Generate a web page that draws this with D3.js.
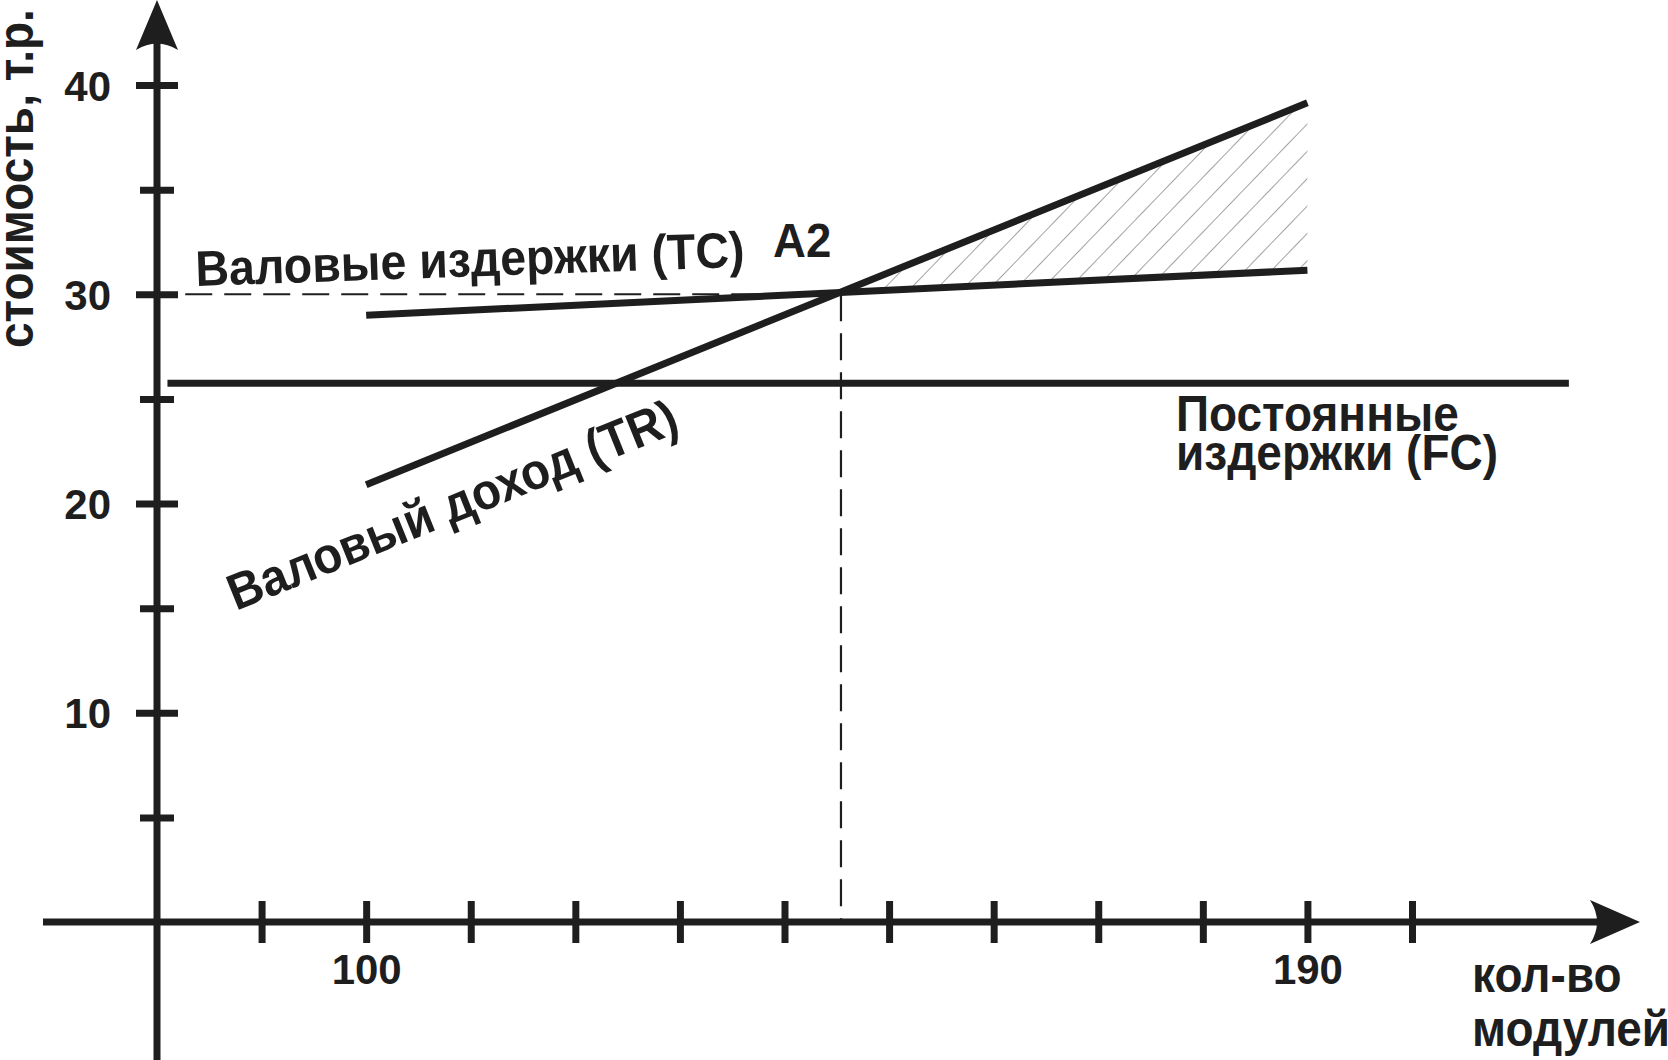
<!DOCTYPE html>
<html><head><meta charset="utf-8">
<script src="https://cdn.jsdelivr.net/npm/d3@7"></script>
<style>
html,body{margin:0;padding:0;background:#fff;overflow:hidden}
text{font-family:"Liberation Sans",Arial,sans-serif;font-weight:bold;fill:#1e1e1e}
</style>
</head><body>
<svg id="c" width="1668" height="1060"></svg>
<script>
// ---- data ----
const xDomain = [80, 200];
const yDomain = [0, 40];
const xTicks = [90, 100, 110, 120, 130, 140, 150, 160, 170, 180, 190, 200];
const xTickLabels = [100, 190];
const yMajorTicks = [10, 20, 30, 40];
const yMinorTicks = [5, 15, 25, 35];
const tcX = [100, 190], tcY = [29.0, 31.15];   // Валовые издержки (TC)
const trX = [100, 190], trY = [20.9, 39.15];   // Валовый доход (TR)
const fcX = [81, 215],  fcY = [25.75, 25.75];  // Постоянные издержки (FC)
const breakEven = [145.4, 30];                 // A2
const profitX = [145.4, 190], profitLow = [30.08, 31.15], profitHigh = [30.08, 39.15];
const labels = {
  tc: "Валовые издержки (TC)", a2: "A2", tr: "Валовый доход (TR)",
  fc1: "Постоянные", fc2: "издержки (FC)",
  xt1: "кол-во", xt2: "модулей", yt: "стоимость, т.р."
};

// ---- scales ----
const ink = "#1e1e1e";
const x = d3.scaleLinear().domain(xDomain).range([157, 1412]);
const y = d3.scaleLinear().domain(yDomain).range([922, 85]);
const svg = d3.select("#c");

const defs = svg.append("defs");
const pat = defs.append("pattern").attr("id", "hatch")
  .attr("patternUnits", "userSpaceOnUse").attr("width", 19).attr("height", 19)
  .attr("patternTransform", "rotate(44)");
pat.append("line").attr("x1", 0).attr("y1", -2).attr("x2", 0).attr("y2", 21)
  .attr("stroke", "#555").attr("stroke-width", 1.1);

// hatched profit area
const areaData = profitX.map((v, i) => ({x: v, lo: profitLow[i], hi: profitHigh[i]}));
svg.append("path").datum(areaData)
  .attr("d", d3.area().x(d => x(d.x)).y0(d => y(d.lo)).y1(d => y(d.hi)))
  .attr("fill", "url(#hatch)");

// dashed guide lines
const dash = "27 12";
svg.append("line").attr("x1", x(82.7)).attr("x2", x(breakEven[0]))
  .attr("y1", y(breakEven[1])).attr("y2", y(breakEven[1]))
  .attr("stroke", ink).attr("stroke-width", 2.2).attr("stroke-dasharray", dash);
svg.append("line").attr("x1", x(breakEven[0])).attr("x2", x(breakEven[0]))
  .attr("y1", y(breakEven[1])).attr("y2", y(0))
  .attr("stroke", ink).attr("stroke-width", 2.2).attr("stroke-dasharray", dash);

// lines
const line = d3.line().x(d => x(d[0])).y(d => y(d[1]));
[[tcX, tcY], [trX, trY], [fcX, fcY]].forEach(([xs, ys]) => {
  svg.append("path").datum(xs.map((v, i) => [v, ys[i]]))
    .attr("d", line).attr("fill", "none").attr("stroke", ink)
    .attr("stroke-width", 7);
});

// axes lines
svg.append("line").attr("x1", 43).attr("x2", 1600).attr("y1", y(0)).attr("y2", y(0))
  .attr("stroke", ink).attr("stroke-width", 7);
svg.append("line").attr("x1", x(80)).attr("x2", x(80)).attr("y1", 1060).attr("y2", 40)
  .attr("stroke", ink).attr("stroke-width", 7);
// arrowheads
const y0p = y(0), x0p = x(80);
svg.append("path").attr("d",
  `M1640,${y0p} L1590,${y0p-22} Q1604,${y0p} 1590,${y0p+22} Z`).attr("fill", ink);
svg.append("path").attr("d",
  `M${x0p},0 L${x0p+21},50 Q${x0p},37 ${x0p-21},50 Z`).attr("fill", ink);

// x axis ticks via d3.axisBottom
const gx = svg.append("g").attr("transform", `translate(0,${y0p})`)
  .call(d3.axisBottom(x).tickValues(xTicks).tickSize(21)
    .tickFormat(d => xTickLabels.includes(d) ? String(d) : ""));
gx.select(".domain").remove();
gx.selectAll(".tick line").attr("y1", -21).attr("y2", 21)
  .attr("stroke", ink).attr("stroke-width", 7);
gx.selectAll(".tick text").attr("y", 62).attr("dy", 0)
  .style("font-size", "42px").attr("fill", ink)
  .style("font-family", '"Liberation Sans",Arial,sans-serif').style("font-weight", "bold");

// y axis major ticks
const gy = svg.append("g").attr("transform", `translate(${x0p},0)`)
  .call(d3.axisLeft(y).tickValues(yMajorTicks).tickSize(21).tickFormat(d => String(d)));
gy.select(".domain").remove();
gy.selectAll(".tick line").attr("x1", 21).attr("x2", -21)
  .attr("stroke", ink).attr("stroke-width", 7);
gy.selectAll(".tick text").attr("x", -46).attr("dy", 0).attr("y", 15)
  .style("font-size", "42px").attr("fill", ink)
  .style("font-family", '"Liberation Sans",Arial,sans-serif').style("font-weight", "bold");
// y axis minor ticks
const gym = svg.append("g").attr("transform", `translate(${x0p},0)`)
  .call(d3.axisLeft(y).tickValues(yMinorTicks).tickSize(17).tickFormat(""));
gym.select(".domain").remove();
gym.selectAll(".tick line").attr("x1", 17).attr("x2", -17)
  .attr("stroke", ink).attr("stroke-width", 7);

// labels (slightly condensed, taller glyphs like the reference)
function label(txt, tx, ty, rot, size, sx) {
  svg.append("text")
    .attr("transform", `translate(${tx},${ty}) rotate(${rot}) scale(${sx},1)`)
    .style("font-size", size + "px").text(txt);
}
label(labels.tc, 196, 286, -2, 50, 0.93);
label(labels.a2, 773, 257, 0, 48, 0.95);
label(labels.tr, 236, 611, -22, 51, 0.93);
label(labels.fc1, 1176, 431, 0, 50, 0.92);
label(labels.fc2, 1176, 470, 0, 50, 0.92);
label(labels.xt1, 1472, 992, 0, 50, 0.92);
label(labels.xt2, 1472, 1046, 0, 50, 0.92);
label(labels.yt, 33, 348, -90, 50, 0.92);
</script>
</body></html>
